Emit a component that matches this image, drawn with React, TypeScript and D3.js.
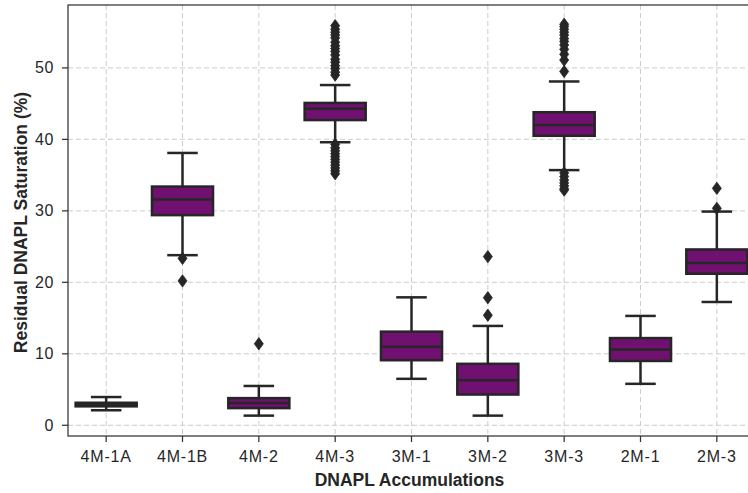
import React from 'react';
import * as d3 from 'd3';

// DNAPL accumulation sites
const categories = ['4M-1A', '4M-1B', '4M-2', '4M-3', '3M-1', '3M-2', '3M-3', '2M-1', '2M-3'];
const q1 = [2.65, 29.4, 2.4, 42.7, 9.1, 4.3, 40.5, 9.0, 21.2];
const medians = [2.9, 31.6, 3.1, 44.3, 11.0, 6.3, 42.0, 10.6, 22.7];
const q3 = [3.15, 33.4, 3.8, 45.1, 13.1, 8.6, 43.8, 12.2, 24.6];
const whiskerLow = [2.1, 23.8, 1.35, 39.6, 6.5, 1.35, 35.7, 5.8, 17.25];
const whiskerHigh = [3.95, 38.1, 5.5, 47.6, 17.9, 13.9, 48.1, 15.3, 29.9];
const outliers = [
  [],
  [23.35, 20.2],
  [11.4],
  [49.0, 49.4, 49.9, 50.3, 50.8, 51.2, 51.8, 52.3, 52.7, 53.1, 53.6, 54.2, 54.6, 55.0, 55.4, 55.9,
    39.3, 38.8, 38.4, 38.0, 37.6, 37.2, 36.8, 36.4, 36.0, 35.6, 35.2],
  [],
  [23.6, 17.85, 15.4],
  [49.5, 51.1, 51.9, 52.6, 53.2, 53.7, 54.1, 54.6, 55.0, 55.4, 55.8, 56.1,
    35.3, 34.8, 34.3, 33.9, 33.5, 33.1, 32.9],
  [],
  [33.15, 30.35],
];
const yTicks = [0, 10, 20, 30, 40, 50];

const App = () => {
  const width = 760;
  const height = 493;
  const left = 68;
  const top = 5;
  const right = 755;
  const bottom = 436;

  const x = d3.scaleBand().domain(categories).range([left, right]).padding(0);
  const y = d3.scaleLinear().domain([-1.5, 58.8]).range([bottom, top]);
  const bw = x.bandwidth();
  const boxW = bw * 0.8;

  const fill = '#701070';
  const line = '#262626';
  const font = '"Liberation Sans", Arial, Helvetica, sans-serif';

  const diamond = (cx: number, cy: number) =>
    `M${cx},${cy - 6.2}L${cx + 4.5},${cy}L${cx},${cy + 6.2}L${cx - 4.5},${cy}Z`;

  return (
    <div style={{ width: 748, height: 493, overflow: 'hidden' }}>
      <style>{`body { margin: 0; }`}</style>
      <svg width={width} height={height} style={{ display: 'block', background: '#fff' }}>
        {/* grid */}
        {yTicks.map((t) => (
          <line key={'gy' + t} x1={left} x2={right} y1={y(t)} y2={y(t)}
            stroke="#cccccc" strokeWidth={1} strokeDasharray="5,3" />
        ))}
        {categories.map((c) => (
          <line key={'gx' + c} x1={x(c)! + bw / 2} x2={x(c)! + bw / 2} y1={top} y2={bottom}
            stroke="#cccccc" strokeWidth={1} strokeDasharray="5,3" />
        ))}

        {/* boxes */}
        {categories.map((c, i) => {
          const cx = x(c)! + bw / 2;
          return (
            <g key={c}>
              <line x1={cx} x2={cx} y1={y(q3[i])} y2={y(whiskerHigh[i])} stroke={line} strokeWidth={2.5} />
              <line x1={cx} x2={cx} y1={y(q1[i])} y2={y(whiskerLow[i])} stroke={line} strokeWidth={2.5} />
              <line x1={cx - boxW / 4} x2={cx + boxW / 4} y1={y(whiskerHigh[i])} y2={y(whiskerHigh[i])}
                stroke={line} strokeWidth={2.5} />
              <line x1={cx - boxW / 4} x2={cx + boxW / 4} y1={y(whiskerLow[i])} y2={y(whiskerLow[i])}
                stroke={line} strokeWidth={2.5} />
              <rect x={cx - boxW / 2} y={y(q3[i])} width={boxW} height={y(q1[i]) - y(q3[i])}
                fill={fill} stroke={line} strokeWidth={2.5} />
              <line x1={cx - boxW / 2} x2={cx + boxW / 2} y1={y(medians[i])} y2={y(medians[i])}
                stroke={line} strokeWidth={2.5} />
              {outliers[i].map((v, j) => (
                <path key={j} d={diamond(cx, y(v))} fill={line} stroke={line} strokeWidth={0.8} />
              ))}
            </g>
          );
        })}

        {/* spines */}
        <rect x={left} y={top} width={right - left} height={bottom - top}
          fill="none" stroke="#333" strokeWidth={1.25} />

        {/* y axis */}
        {yTicks.map((t) => (
          <g key={'ty' + t}>
            <line x1={left - 6} x2={left} y1={y(t)} y2={y(t)} stroke="#333" strokeWidth={1.25} />
            <text x={left - 14} y={y(t)} dy="0.35em" textAnchor="end" fontFamily={font}
              fontSize={16} fill={line} letterSpacing={0.6}>{t}</text>
          </g>
        ))}

        {/* x axis */}
        {categories.map((c) => (
          <g key={'tx' + c}>
            <line x1={x(c)! + bw / 2} x2={x(c)! + bw / 2} y1={bottom} y2={bottom + 6}
              stroke="#333" strokeWidth={1.25} />
            <text x={x(c)! + bw / 2} y={461.5} textAnchor="middle" fontFamily={font}
              fontSize={16} fill={line} letterSpacing={0.8}>{c}</text>
          </g>
        ))}

        <text x={(left + right) / 2 - 2} y={485.5} textAnchor="middle" fontFamily={font}
          fontSize={17.5} fontWeight="bold" fill={line}>DNAPL Accumulations</text>
        <text transform={`translate(26.5,222.5) rotate(-90)`} textAnchor="middle" fontFamily={font}
          fontSize={17.5} fontWeight="bold" fill={line}>Residual DNAPL Saturation (%)</text>
      </svg>
    </div>
  );
};

export default App;
